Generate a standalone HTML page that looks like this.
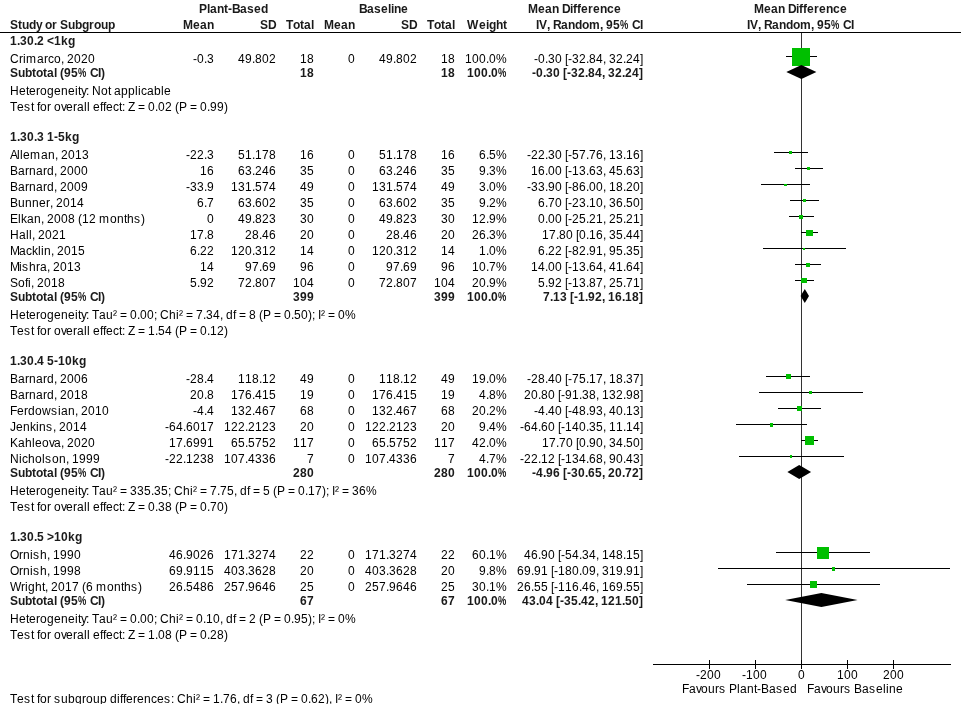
<!DOCTYPE html>
<html><head><meta charset="utf-8"><style>
html,body{margin:0;padding:0;background:#fff;}
body{width:961px;height:704px;overflow:hidden;}
svg{display:block;will-change:transform;}
text{font-family:"Liberation Sans", sans-serif;font-size:12px;fill:#000;font-kerning:none;}
text.b{font-weight:bold;fill:#1a1a1a;}
</style></head><body>
<svg width="961" height="704" viewBox="0 0 961 704" shape-rendering="crispEdges">
<path d="M0 32.5H961M653 664.5H951" stroke="#000" fill="none"/>
<path d="M801.5 33V660" stroke="#333" fill="none"/>
<path d="M709.5 660V669" stroke="#000"/>
<path d="M755.5 660V669" stroke="#000"/>
<path d="M801.5 660V669" stroke="#000"/>
<path d="M847.5 660V669" stroke="#000"/>
<path d="M893.5 660V669" stroke="#000"/>
<rect x="786" y="56" width="31" height="1" fill="#000"/>
<rect x="792" y="48" width="18" height="18" fill="#00bf00"/>
<polygon points="786.3,72 801.4,65 816.4,72 801.4,79" fill="#000" shape-rendering="auto"/>
<rect x="774" y="152" width="34" height="1" fill="#000"/>
<rect x="789" y="151" width="3" height="3" fill="#00bf00"/>
<rect x="795" y="168" width="28" height="1" fill="#000"/>
<rect x="807" y="167" width="3" height="3" fill="#00bf00"/>
<rect x="761" y="184" width="49" height="1" fill="#000"/>
<rect x="784" y="184" width="3" height="2" fill="#00bf00"/>
<rect x="790" y="200" width="29" height="1" fill="#000"/>
<rect x="803" y="199" width="3" height="3" fill="#00bf00"/>
<rect x="789" y="216" width="25" height="1" fill="#000"/>
<rect x="799" y="215" width="4" height="4" fill="#00bf00"/>
<rect x="801" y="232" width="17" height="1" fill="#000"/>
<rect x="806" y="230" width="7" height="6" fill="#00bf00"/>
<rect x="763" y="248" width="83" height="1" fill="#000"/>
<rect x="803" y="248" width="2" height="2" fill="#00bf00"/>
<rect x="795" y="264" width="26" height="1" fill="#000"/>
<rect x="806" y="263" width="4" height="4" fill="#00bf00"/>
<rect x="795" y="280" width="19" height="1" fill="#000"/>
<rect x="801" y="278" width="6" height="5" fill="#00bf00"/>
<polygon points="800.6,296 804.8,289 809.0,296 804.8,303" fill="#000" shape-rendering="auto"/>
<rect x="766" y="376" width="44" height="1" fill="#000"/>
<rect x="786" y="374" width="5" height="5" fill="#00bf00"/>
<rect x="759" y="392" width="104" height="1" fill="#000"/>
<rect x="809" y="391" width="3" height="3" fill="#00bf00"/>
<rect x="778" y="408" width="43" height="1" fill="#000"/>
<rect x="797" y="406" width="5" height="5" fill="#00bf00"/>
<rect x="736" y="424" width="71" height="1" fill="#000"/>
<rect x="770" y="423" width="3" height="4" fill="#00bf00"/>
<rect x="801" y="440" width="17" height="1" fill="#000"/>
<rect x="805" y="436" width="9" height="9" fill="#00bf00"/>
<rect x="739" y="456" width="105" height="1" fill="#000"/>
<rect x="790" y="455" width="2" height="3" fill="#00bf00"/>
<polygon points="787.4,472 799.2,465 811.1,472 799.2,479" fill="#000" shape-rendering="auto"/>
<rect x="776" y="552" width="94" height="1" fill="#000"/>
<rect x="817" y="547" width="12" height="12" fill="#00bf00"/>
<rect x="718" y="568" width="232" height="1" fill="#000"/>
<rect x="832" y="567" width="3" height="4" fill="#00bf00"/>
<rect x="747" y="584" width="133" height="1" fill="#000"/>
<rect x="810" y="581" width="7" height="7" fill="#00bf00"/>
<polygon points="785.2,600 821.4,593 857.6,600 821.4,607" fill="#000" shape-rendering="auto"/>
<g>
<text x="199 207 210 217 224 228 232 240 247 254 261" y="13" class="b">Plant-Based</text>
<text x="359 367 374 381 388 391 394 401" y="13" class="b">Baseline</text>
<text x="528 538 545 552 559 562 570 573 577 581 588 593 600 607 614" y="13" class="b">Mean Difference</text>
<text x="754 764 771 778 785 788 796 799 803 807 814 819 826 833 840" y="13" class="b">Mean Difference</text>
<text x="10 18 22 29 36 42 45 52 57 60 68 75 82 89 94 101 108" y="29" class="b">Study or Subgroup</text>
<text x="183 193 200 207" y="29" class="b">Mean</text>
<text x="260 268" y="29" class="b">SD</text>
<text x="286 293 300 304 311" y="29" class="b">Total</text>
<text x="324 334 341 348" y="29" class="b">Mean</text>
<text x="401 409" y="29" class="b">SD</text>
<text x="427 434 441 445 452" y="29" class="b">Total</text>
<text x="467 479 486 489 496 503" y="29" class="b">Weight</text>
<text transform="translate(620 29) scale(0.78 1)" class="b">%</text>
<text x="536 539 547 550 553 561 568 575 582 589 600 603 606 613 629 632 640" y="29" class="b">IV, Random, 95 CI</text>
<text transform="translate(831 29) scale(0.78 1)" class="b">%</text>
<text x="747 750 758 761 764 772 779 786 793 800 811 814 817 824 840 843 851" y="29" class="b">IV, Random, 95 CI</text>
<text x="10 17 20 27 34 37 44 47 54 61 68" y="45" class="b">1.30.2 &lt;1kg</text>
<text x="10 19 23 26 37 44 48 54 61 64 67 74 81 88" y="63">Crimarco, 2020</text>
<text x="193 197 204 207" y="63">-0.3</text>
<text x="238 245 252 255 262 269" y="63">49.802</text>
<text x="300 307" y="63">18</text>
<text x="348" y="63">0</text>
<text x="379 386 393 396 403 410" y="63">49.802</text>
<text x="441 448" y="63">18</text>
<text x="465 472 479 486 489 496" y="63">100.0%</text>
<text x="534 538 545 548 555 562 565 568 572 579 586 589 596 603 606 609 616 623 626 633 640" y="63">-0.30 [-32.84, 32.24]</text>
<text transform="translate(78 77) scale(0.78 1)" class="b">%</text>
<text x="10 18 25 32 36 43 47 54 57 60 64 71 87 90 98 101" y="77" class="b">Subtotal (95 CI)</text>
<text x="300 307" y="77" class="b">18</text>
<text x="441 448" y="77" class="b">18</text>
<text transform="translate(498 77) scale(0.78 1)" class="b">%</text>
<text x="467 474 481 488 491" y="77" class="b">100.0</text>
<text x="532 536 543 546 553 560 563 567 571 578 585 588 595 602 605 608 615 622 625 632 639" y="77" class="b">-0.30 [-32.84, 32.24]</text>
<text x="10 19 26 29 36 40 47 54 61 68 75 78 81 86 89 92 101 108 111 114 121 128 135 138 141 147 154 161 164" y="95">Heterogeneity: Not applicable</text>
<text x="10 17 24 31 34 37 40 47 51 54 61 66 73 77 84 87 90 93 100 103 106 113 119 122 125 128 135 138 145 148 155 158 165 172 175 179 187 190 197 200 207 210 217 224" y="111">Test for overall effect: Z = 0.02 (P = 0.99)</text>
<text x="10 17 20 27 34 37 44 47 54 58 65 72" y="141" class="b">1.30.3 1-5kg</text>
<text x="10 17 20 23 30 41 48 55 58 61 68 75 82" y="159">Alleman, 2013</text>
<text x="186 190 197 204 207" y="159">-22.3</text>
<text x="238 245 252 255 262 269" y="159">51.178</text>
<text x="300 307" y="159">16</text>
<text x="348" y="159">0</text>
<text x="379 386 393 396 403 410" y="159">51.178</text>
<text x="441 448" y="159">16</text>
<text x="479 486 489 496" y="159">6.5%</text>
<text x="527 531 538 545 548 555 562 565 568 572 579 586 589 596 603 606 609 616 623 626 633 640" y="159">-22.30 [-57.76, 13.16]</text>
<text x="10 18 25 29 36 43 47 54 57 60 67 74 81" y="175">Barnard, 2000</text>
<text x="200 207" y="175">16</text>
<text x="238 245 252 255 262 269" y="175">63.246</text>
<text x="300 307" y="175">35</text>
<text x="348" y="175">0</text>
<text x="379 386 393 396 403 410" y="175">63.246</text>
<text x="441 448" y="175">35</text>
<text x="479 486 489 496" y="175">9.3%</text>
<text x="531 538 545 548 555 562 565 568 572 579 586 589 596 603 606 609 616 623 626 633 640" y="175">16.00 [-13.63, 45.63]</text>
<text x="10 18 25 29 36 43 47 54 57 60 67 74 81" y="191">Barnard, 2009</text>
<text x="186 190 197 204 207" y="191">-33.9</text>
<text x="231 238 245 252 255 262 269" y="191">131.574</text>
<text x="300 307" y="191">49</text>
<text x="348" y="191">0</text>
<text x="372 379 386 393 396 403 410" y="191">131.574</text>
<text x="441 448" y="191">49</text>
<text x="479 486 489 496" y="191">3.0%</text>
<text x="527 531 538 545 548 555 562 565 568 572 579 586 589 596 603 606 609 616 623 626 633 640" y="191">-33.90 [-86.00, 18.20]</text>
<text x="10 18 25 32 39 46 50 53 56 63 70 77" y="207">Bunner, 2014</text>
<text x="197 204 207" y="207">6.7</text>
<text x="238 245 252 255 262 269" y="207">63.602</text>
<text x="300 307" y="207">35</text>
<text x="348" y="207">0</text>
<text x="379 386 393 396 403 410" y="207">63.602</text>
<text x="441 448" y="207">35</text>
<text x="479 486 489 496" y="207">9.2%</text>
<text x="538 545 548 555 562 565 568 572 579 586 589 596 603 606 609 616 623 626 633 640" y="207">6.70 [-23.10, 36.50]</text>
<text x="10 18 21 27 34 41 44 47 54 61 68 75 78 82 89 96 99 110 117 124 127 134 141" y="223">Elkan, 2008 (12 months)</text>
<text x="207" y="223">0</text>
<text x="238 245 252 255 262 269" y="223">49.823</text>
<text x="300 307" y="223">30</text>
<text x="348" y="223">0</text>
<text x="379 386 393 396 403 410" y="223">49.823</text>
<text x="441 448" y="223">30</text>
<text x="472 479 486 489 496" y="223">12.9%</text>
<text x="538 545 548 555 562 565 568 572 579 586 589 596 603 606 609 616 623 626 633 640" y="223">0.00 [-25.21, 25.21]</text>
<text x="10 19 26 29 32 35 38 45 52 59" y="239">Hall, 2021</text>
<text x="190 197 204 207" y="239">17.8</text>
<text x="245 252 259 262 269" y="239">28.46</text>
<text x="300 307" y="239">20</text>
<text x="348" y="239">0</text>
<text x="386 393 400 403 410" y="239">28.46</text>
<text x="441 448" y="239">20</text>
<text x="472 479 486 489 496" y="239">26.3%</text>
<text x="542 549 556 559 566 573 576 579 586 589 596 603 606 609 616 623 626 633 640" y="239">17.80 [0.16, 35.44]</text>
<text x="10 19 26 32 38 41 44 51 54 57 64 71 78" y="255">Macklin, 2015</text>
<text x="190 197 200 207" y="255">6.22</text>
<text x="231 238 245 252 255 262 269" y="255">120.312</text>
<text x="300 307" y="255">14</text>
<text x="348" y="255">0</text>
<text x="372 379 386 393 396 403 410" y="255">120.312</text>
<text x="441 448" y="255">14</text>
<text x="479 486 489 496" y="255">1.0%</text>
<text x="538 545 548 555 562 565 568 572 579 586 589 596 603 606 609 616 623 626 633 640" y="255">6.22 [-82.91, 95.35]</text>
<text x="10 19 22 29 36 40 47 50 53 60 67 74" y="271">Mishra, 2013</text>
<text x="200 207" y="271">14</text>
<text x="245 252 259 262 269" y="271">97.69</text>
<text x="300 307" y="271">96</text>
<text x="348" y="271">0</text>
<text x="386 393 400 403 410" y="271">97.69</text>
<text x="441 448" y="271">96</text>
<text x="472 479 486 489 496" y="271">10.7%</text>
<text x="531 538 545 548 555 562 565 568 572 579 586 589 596 603 606 609 616 623 626 633 640" y="271">14.00 [-13.64, 41.64]</text>
<text x="10 18 25 28 31 34 37 44 51 58" y="287">Sofi, 2018</text>
<text x="190 197 200 207" y="287">5.92</text>
<text x="238 245 252 255 262 269" y="287">72.807</text>
<text x="293 300 307" y="287">104</text>
<text x="348" y="287">0</text>
<text x="379 386 393 396 403 410" y="287">72.807</text>
<text x="434 441 448" y="287">104</text>
<text x="472 479 486 489 496" y="287">20.9%</text>
<text x="538 545 548 555 562 565 568 572 579 586 589 596 603 606 609 616 623 626 633 640" y="287">5.92 [-13.87, 25.71]</text>
<text transform="translate(78 301) scale(0.78 1)" class="b">%</text>
<text x="10 18 25 32 36 43 47 54 57 60 64 71 87 90 98 101" y="301" class="b">Subtotal (95 CI)</text>
<text x="293 300 307" y="301" class="b">399</text>
<text x="434 441 448" y="301" class="b">399</text>
<text transform="translate(498 301) scale(0.78 1)" class="b">%</text>
<text x="467 474 481 488 491" y="301" class="b">100.0</text>
<text x="543 550 553 560 567 570 574 578 585 588 595 602 605 608 615 622 625 632 639" y="301" class="b">7.13 [-1.92, 16.18]</text>
<text x="10 19 26 29 36 40 47 54 61 68 75 78 81 86 89 92 99 106 113 117 120 127 130 137 140 147 154 157 160 169 176 179 183 186 193 196 203 206 213 220 223 226 233 236 239 246 249 256 259 263 271 274 281 284 291 294 301 308 312 315 318 321 325 328 335 338 345" y="319">Heterogeneity: Tau² = 0.00; Chi² = 7.34, df = 8 (P = 0.50); I² = 0%</text>
<text x="10 17 24 31 34 37 40 47 51 54 61 66 73 77 84 87 90 93 100 103 106 113 119 122 125 128 135 138 145 148 155 158 165 172 175 179 187 190 197 200 207 210 217 224" y="335">Test for overall effect: Z = 1.54 (P = 0.12)</text>
<text x="10 17 20 27 34 37 44 47 54 58 65 72 79" y="365" class="b">1.30.4 5-10kg</text>
<text x="10 18 25 29 36 43 47 54 57 60 67 74 81" y="383">Barnard, 2006</text>
<text x="186 190 197 204 207" y="383">-28.4</text>
<text x="238 245 252 259 262 269" y="383">118.12</text>
<text x="300 307" y="383">49</text>
<text x="348" y="383">0</text>
<text x="379 386 393 400 403 410" y="383">118.12</text>
<text x="441 448" y="383">49</text>
<text x="472 479 486 489 496" y="383">19.0%</text>
<text x="527 531 538 545 548 555 562 565 568 572 579 586 589 596 603 606 609 616 623 626 633 640" y="383">-28.40 [-75.17, 18.37]</text>
<text x="10 18 25 29 36 43 47 54 57 60 67 74 81" y="399">Barnard, 2018</text>
<text x="190 197 204 207" y="399">20.8</text>
<text x="231 238 245 252 255 262 269" y="399">176.415</text>
<text x="300 307" y="399">19</text>
<text x="348" y="399">0</text>
<text x="372 379 386 393 396 403 410" y="399">176.415</text>
<text x="441 448" y="399">19</text>
<text x="479 486 489 496" y="399">4.8%</text>
<text x="524 531 538 541 548 555 558 561 565 572 579 582 589 596 599 602 609 616 623 626 633 640" y="399">20.80 [-91.38, 132.98]</text>
<text x="10 17 24 28 35 42 51 58 61 68 75 78 81 88 95 102" y="415">Ferdowsian, 2010</text>
<text x="193 197 204 207" y="415">-4.4</text>
<text x="231 238 245 252 255 262 269" y="415">132.467</text>
<text x="300 307" y="415">68</text>
<text x="348" y="415">0</text>
<text x="372 379 386 393 396 403 410" y="415">132.467</text>
<text x="441 448" y="415">68</text>
<text x="472 479 486 489 496" y="415">20.2%</text>
<text x="534 538 545 548 555 562 565 568 572 579 586 589 596 603 606 609 616 623 626 633 640" y="415">-4.40 [-48.93, 40.13]</text>
<text x="10 16 23 30 36 39 46 53 56 59 66 73 80" y="431">Jenkins, 2014</text>
<text x="165 169 176 183 186 193 200 207" y="431">-64.6017</text>
<text x="224 231 238 245 248 255 262 269" y="431">122.2123</text>
<text x="300 307" y="431">20</text>
<text x="348" y="431">0</text>
<text x="365 372 379 386 389 396 403 410" y="431">122.2123</text>
<text x="441 448" y="431">20</text>
<text x="479 486 489 496" y="431">9.4%</text>
<text x="520 524 531 538 541 548 555 558 561 565 572 579 586 589 596 603 606 609 616 623 626 633 640" y="431">-64.60 [-140.35, 11.14]</text>
<text x="10 18 25 32 35 42 49 54 61 64 67 74 81 88" y="447">Kahleova, 2020</text>
<text x="169 176 183 186 193 200 207" y="447">17.6991</text>
<text x="231 238 245 248 255 262 269" y="447">65.5752</text>
<text x="293 300 307" y="447">117</text>
<text x="348" y="447">0</text>
<text x="372 379 386 389 396 403 410" y="447">65.5752</text>
<text x="434 441 448" y="447">117</text>
<text x="472 479 486 489 496" y="447">42.0%</text>
<text x="542 549 556 559 566 573 576 579 586 589 596 603 606 609 616 623 626 633 640" y="447">17.70 [0.90, 34.50]</text>
<text x="10 19 22 28 35 42 45 52 59 66 69 72 79 86 93" y="463">Nicholson, 1999</text>
<text x="165 169 176 183 186 193 200 207" y="463">-22.1238</text>
<text x="224 231 238 245 248 255 262 269" y="463">107.4336</text>
<text x="307" y="463">7</text>
<text x="348" y="463">0</text>
<text x="365 372 379 386 389 396 403 410" y="463">107.4336</text>
<text x="448" y="463">7</text>
<text x="479 486 489 496" y="463">4.7%</text>
<text x="520 524 531 538 541 548 555 558 561 565 572 579 586 589 596 603 606 609 616 623 626 633 640" y="463">-22.12 [-134.68, 90.43]</text>
<text transform="translate(78 477) scale(0.78 1)" class="b">%</text>
<text x="10 18 25 32 36 43 47 54 57 60 64 71 87 90 98 101" y="477" class="b">Subtotal (95 CI)</text>
<text x="293 300 307" y="477" class="b">280</text>
<text x="434 441 448" y="477" class="b">280</text>
<text transform="translate(498 477) scale(0.78 1)" class="b">%</text>
<text x="467 474 481 488 491" y="477" class="b">100.0</text>
<text x="532 536 543 546 553 560 563 567 571 578 585 588 595 602 605 608 615 622 625 632 639" y="477" class="b">-4.96 [-30.65, 20.72]</text>
<text x="10 19 26 29 36 40 47 54 61 68 75 78 81 86 89 92 99 106 113 117 120 127 130 137 144 151 154 161 168 171 174 183 190 193 197 200 207 210 217 220 227 234 237 240 247 250 253 260 263 270 273 277 285 288 295 298 305 308 315 322 326 329 332 335 339 342 349 352 359 366" y="495">Heterogeneity: Tau² = 335.35; Chi² = 7.75, df = 5 (P = 0.17); I² = 36%</text>
<text x="10 17 24 31 34 37 40 47 51 54 61 66 73 77 84 87 90 93 100 103 106 113 119 122 125 128 135 138 145 148 155 158 165 172 175 179 187 190 197 200 207 210 217 224" y="511">Test for overall effect: Z = 0.38 (P = 0.70)</text>
<text x="10 17 20 27 34 37 44 47 54 61 68 75" y="541" class="b">1.30.5 &gt;10kg</text>
<text x="10 19 23 30 33 40 47 50 53 60 67 74" y="559">Ornish, 1990</text>
<text x="169 176 183 186 193 200 207" y="559">46.9026</text>
<text x="224 231 238 245 248 255 262 269" y="559">171.3274</text>
<text x="300 307" y="559">22</text>
<text x="348" y="559">0</text>
<text x="365 372 379 386 389 396 403 410" y="559">171.3274</text>
<text x="441 448" y="559">22</text>
<text x="472 479 486 489 496" y="559">60.1%</text>
<text x="524 531 538 541 548 555 558 561 565 572 579 582 589 596 599 602 609 616 623 626 633 640" y="559">46.90 [-54.34, 148.15]</text>
<text x="10 19 23 30 33 40 47 50 53 60 67 74" y="575">Ornish, 1998</text>
<text x="169 176 183 186 193 200 207" y="575">69.9115</text>
<text x="224 231 238 245 248 255 262 269" y="575">403.3628</text>
<text x="300 307" y="575">20</text>
<text x="348" y="575">0</text>
<text x="365 372 379 386 389 396 403 410" y="575">403.3628</text>
<text x="441 448" y="575">20</text>
<text x="479 486 489 496" y="575">9.8%</text>
<text x="517 524 531 534 541 548 551 554 558 565 572 579 582 589 596 599 602 609 616 623 626 633 640" y="575">69.91 [-180.09, 319.91]</text>
<text x="10 21 25 28 35 42 45 48 51 58 65 72 79 82 86 93 96 107 114 121 124 131 138" y="591">Wright, 2017 (6 months)</text>
<text x="169 176 183 186 193 200 207" y="591">26.5486</text>
<text x="224 231 238 245 248 255 262 269" y="591">257.9646</text>
<text x="300 307" y="591">25</text>
<text x="348" y="591">0</text>
<text x="365 372 379 386 389 396 403 410" y="591">257.9646</text>
<text x="441 448" y="591">25</text>
<text x="472 479 486 489 496" y="591">30.1%</text>
<text x="517 524 531 534 541 548 551 554 558 565 572 579 582 589 596 599 602 609 616 623 626 633 640" y="591">26.55 [-116.46, 169.55]</text>
<text transform="translate(78 605) scale(0.78 1)" class="b">%</text>
<text x="10 18 25 32 36 43 47 54 57 60 64 71 87 90 98 101" y="605" class="b">Subtotal (95 CI)</text>
<text x="300 307" y="605" class="b">67</text>
<text x="441 448" y="605" class="b">67</text>
<text transform="translate(498 605) scale(0.78 1)" class="b">%</text>
<text x="467 474 481 488 491" y="605" class="b">100.0</text>
<text x="522 529 536 539 546 553 556 560 564 571 578 581 588 595 598 601 608 615 622 625 632 639" y="605" class="b">43.04 [-35.42, 121.50]</text>
<text x="10 19 26 29 36 40 47 54 61 68 75 78 81 86 89 92 99 106 113 117 120 127 130 137 140 147 154 157 160 169 176 179 183 186 193 196 203 206 213 220 223 226 233 236 239 246 249 256 259 263 271 274 281 284 291 294 301 308 312 315 318 321 325 328 335 338 345" y="623">Heterogeneity: Tau² = 0.00; Chi² = 0.10, df = 2 (P = 0.95); I² = 0%</text>
<text x="10 17 24 31 34 37 40 47 51 54 61 66 73 77 84 87 90 93 100 103 106 113 119 122 125 128 135 138 145 148 155 158 165 172 175 179 187 190 197 200 207 210 217 224" y="639">Test for overall effect: Z = 1.08 (P = 0.28)</text>
<text x="10 17 24 31 34 37 40 47 51 54 61 68 75 82 86 93 100 107 110 117 120 123 126 133 137 144 151 157 164 171 174 177 186 193 196 200 203 210 213 220 223 230 237 240 243 250 253 256 263 266 273 276 280 288 291 298 301 308 311 318 325 329 332 335 338 342 345 352 355 362" y="703">Test for subgroup differences: Chi² = 1.76, df = 3 (P = 0.62), I² = 0%</text>
<text x="696 700 707 714" y="679">-200</text>
<text x="742 746 753 760" y="679">-100</text>
<text x="798" y="679">0</text>
<text x="837 844 851" y="679">100</text>
<text x="883 890 897" y="679">200</text>
<text x="682 689 696 701 708 715 719 726 729 737 740 747 754 757 761 769 776 783 790" y="693">Favours Plant-Based</text>
<text x="807 814 821 826 833 840 844 851 854 862 869 876 883 886 889 896" y="693">Favours Baseline</text>
</g>
</svg>
</body></html>
